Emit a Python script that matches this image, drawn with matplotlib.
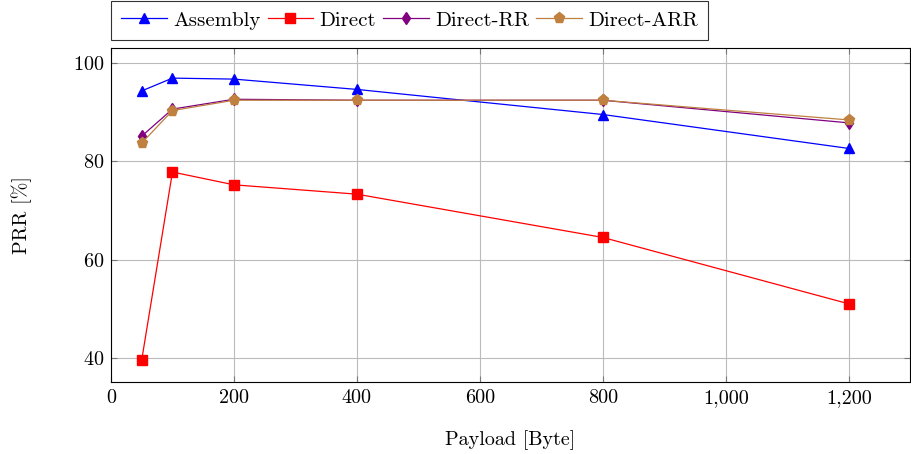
import matplotlib.pyplot as plt
from matplotlib.ticker import FuncFormatter

plt.rcParams['font.family'] = ['cmr10', 'DejaVu Serif']
plt.rcParams['axes.formatter.use_mathtext'] = True
plt.rcParams['mathtext.fontset'] = 'cm'

payload = [50, 100, 200, 400, 800, 1200]
assembly = [94.3, 96.9, 96.7, 94.6, 89.5, 82.6]
direct = [39.6, 77.8, 75.2, 73.3, 64.5, 51.0]
direct_rr = [85.1, 90.6, 92.6, 92.4, 92.4, 87.8]
direct_arr = [83.7, 90.3, 92.4, 92.4, 92.4, 88.4]

fig = plt.figure(figsize=(9.12, 4.54), dpi=100)
ax = fig.add_axes([0.1217, 0.1586, 0.8763, 0.7354])

ax.plot(payload, assembly, color='blue', lw=0.9, marker='^', ms=7.5, label='Assembly')
ax.plot(payload, direct, color='red', lw=0.9, marker='s', ms=7.5, label='Direct')
ax.plot(payload, direct_rr, color='purple', lw=0.9, marker='d', ms=6.5, label='Direct-RR')
ax.plot(payload, direct_arr, color=(0.75, 0.5, 0.25), lw=0.9, marker='p', ms=8, label='Direct-ARR')

ax.set_xlim(0, 1300)
ax.set_ylim(35.1, 103.0)
ax.set_xticks([0, 200, 400, 600, 800, 1000, 1200])
ax.set_yticks([40, 60, 80, 100])
ax.xaxis.set_major_formatter(FuncFormatter(lambda v, p: f'{int(v):,}'))
ax.grid(True, color='#bbbbbb', lw=0.8)
ax.set_axisbelow(True)
ax.tick_params(direction='in', top=True, right=True, length=4, color='#777777', labelsize=14.5, pad=5)
for s in ax.spines.values():
    s.set_linewidth(0.8)

ax.set_xlabel('Payload [Byte]', fontsize=14.5, labelpad=17)
ax.set_ylabel('PRR [%]', fontsize=14.5, labelpad=29)

leg = ax.legend(loc='lower left', bbox_to_anchor=(0.0, 1.024), ncol=4, fontsize=15,
                frameon=True, fancybox=False, edgecolor='black', handlelength=2.2,
                columnspacing=0.32, handletextpad=0.3, borderpad=0.5, borderaxespad=0)
leg.get_frame().set_linewidth(0.8)

fig.savefig('out.png', dpi=100)
